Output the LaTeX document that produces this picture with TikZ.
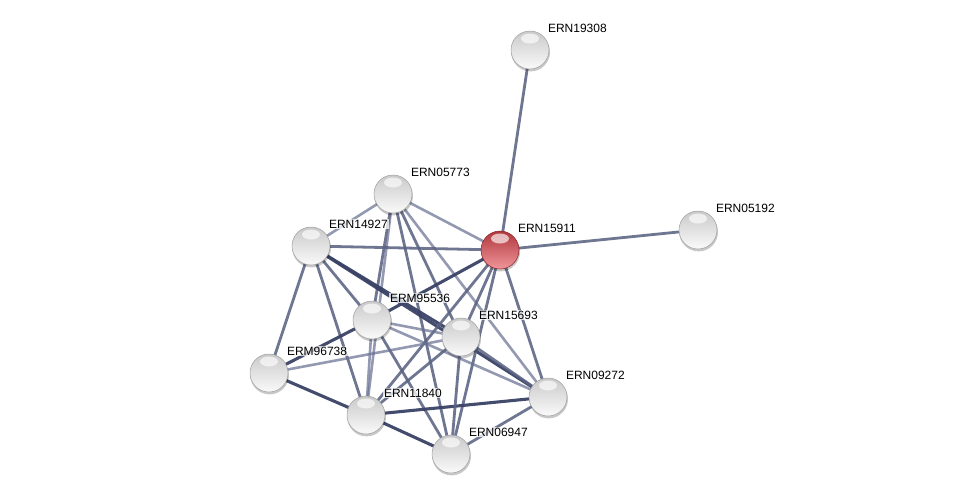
\documentclass[tikz,border=0pt]{standalone}
\usepackage{fontspec}
\setmainfont{Liberation Sans}
\usetikzlibrary{calc}
\pgfdeclarelayer{edges}
\pgfdeclarelayer{shadows}
\pgfsetlayers{edges,shadows,main}
\definecolor{redtop}{RGB}{175,55,60}
\definecolor{redmid}{RGB}{210,100,105}
\definecolor{redbot}{RGB}{240,150,155}
\begin{document}
\begin{tikzpicture}[x=1pt,y=-1pt,
  ed/.style={line width=2.8pt, draw={rgb,255:red,90;green,99;blue,130}, opacity=0.88},
  edl/.style={line width=2.6pt, draw={rgb,255:red,105;green,113;blue,145}, opacity=0.72},
  edd/.style={line width=3.1pt, draw={rgb,255:red,58;green,66;blue,102}, opacity=0.95},
  ball/.style={circle, minimum size=38pt, inner sep=0pt, draw=gray!75, line width=0.5pt, top color=gray!42, middle color=gray!16, bottom color=gray!4},
  rball/.style={circle, minimum size=38pt, inner sep=0pt, draw={rgb,255:red,140;green,35;blue,40}, line width=0.5pt, top color=redtop, middle color=redmid, bottom color=redbot},
  lab/.style={anchor=west, font=\fontsize{12}{14}\selectfont, fill=white, fill opacity=0.75, text opacity=1, inner sep=0.8pt}
]
\useasboundingbox (0,0) rectangle (976,499);
% nodes
\node[ball] (A) at (530,50) {};
\node[ball] (B) at (393,194) {};
\node[rball] (C) at (500,250) {};
\node[ball] (D) at (698,230) {};
\node[ball] (E) at (311,246) {};
\node[ball] (F) at (372,320) {};
\node[ball] (G) at (461,337) {};
\node[ball] (H) at (269,373) {};
\node[ball] (I) at (548,397) {};
\node[ball] (J) at (366,415) {};
\node[ball] (K) at (451,454) {};
% highlights
\foreach \p in {A,B,C,D,E,F,G,H,I,J,K}
  \fill[white, opacity=0.65] ($(\p.center)+(0,-11.5)$) ellipse (9 and 5);
% shadows
\begin{pgfonlayer}{shadows}
\foreach \p in {A,B,C,D,E,F,G,H,I,J,K}
  \fill[black, opacity=0.22] ($(\p.center)+(0.6,2)$) circle (19.4);
\end{pgfonlayer}
% edges
\begin{pgfonlayer}{edges}
\draw[ed] (A.center) -- (C.center);
\draw[ed] (C.center) -- (D.center);
\draw[edl] (B.center) -- (E.center);
\draw[edl] (B.center) -- (C.center);
\draw[ed] (B.center) -- (F.center);
\draw[edl] (B.center) -- (J.center);
\draw[ed] (B.center) -- (K.center);
\draw[ed] (B.center) -- (G.center);
\draw[edl] (B.center) -- (I.center);
\draw[ed] (E.center) -- (C.center);
\draw[ed] (E.center) -- (H.center);
\draw[ed] (E.center) -- (J.center);
\draw[ed] (E.center) -- (F.center);
\draw[edd] (E.center) -- (G.center);
\draw[edd] (E.center) -- (I.center);
\draw[edd] (C.center) -- (F.center);
\draw[ed] (C.center) -- (G.center);
\draw[ed] (C.center) -- (J.center);
\draw[ed] (C.center) -- (K.center);
\draw[ed] (C.center) -- (I.center);
\draw[edd] (F.center) -- (H.center);
\draw[edl] (F.center) -- (G.center);
\draw[edl] (F.center) -- (I.center);
\draw[ed] (F.center) -- (K.center);
\draw[edl] (F.center) -- (J.center);
\draw[edl] (H.center) -- (G.center);
\draw[edd] (H.center) -- (J.center);
\draw[ed] (J.center) -- (G.center);
\draw[edd] (J.center) -- (I.center);
\draw[edd] (J.center) -- (K.center);
\draw[ed] (G.center) -- (K.center);
\draw[ed] (G.center) -- (I.center);
\draw[ed] (K.center) -- (I.center);
\end{pgfonlayer}
% labels
\node[lab] (lA) at ($(A.center)+(17,-22)$) {ERN19308};
\node[lab] (lB) at ($(B.center)+(17,-22)$) {ERN05773};
\node[lab] (lC) at ($(C.center)+(17,-22)$) {ERN15911};
\node[lab] (lD) at ($(D.center)+(17,-22)$) {ERN05192};
\node[lab] (lE) at ($(E.center)+(17,-22)$) {ERN14927};
\node[lab] (lF) at ($(F.center)+(17,-22)$) {ERM95536};
\node[lab] (lG) at ($(G.center)+(17,-22)$) {ERN15693};
\node[lab] (lH) at ($(H.center)+(17,-22)$) {ERM96738};
\node[lab] (lI) at ($(I.center)+(17,-22)$) {ERN09272};
\node[lab] (lJ) at ($(J.center)+(17,-22)$) {ERN11840};
\node[lab] (lK) at ($(K.center)+(17,-22)$) {ERN06947};
\end{tikzpicture}
\end{document}
